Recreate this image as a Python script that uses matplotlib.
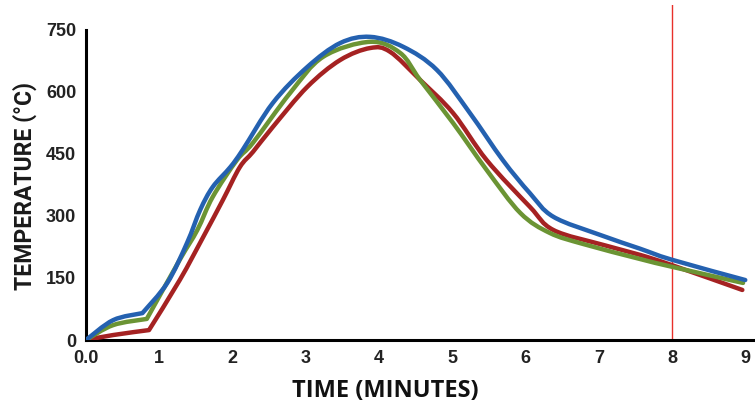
import matplotlib.pyplot as plt
from matplotlib.path import Path
from matplotlib.patches import PathPatch

# time in minutes / temperature in degrees C
blue_t = [0.0, 0.37, 0.77, 1.11, 1.38, 1.56, 1.73, 1.97, 2.14, 2.55, 3.02, 3.47, 3.88,
          4.33, 4.79, 5.24, 5.69, 6.06, 6.38, 7.02, 7.56, 8.0, 9.0]
blue_temp = [0, 48, 65, 138, 235, 315, 370, 418, 460, 573, 660, 718, 733,
             709, 653, 549, 435, 355, 298, 254, 221, 194, 145]

green_t = [0.0, 0.37, 0.83, 1.28, 1.52, 1.73, 2.06, 2.28, 2.79, 3.24, 3.88, 4.29, 4.56,
           5.01, 5.47, 5.93, 6.33, 6.79, 7.56, 8.0, 8.97]
green_temp = [0, 36, 51, 194, 266, 346, 435, 477, 598, 685, 721, 694, 629,
              525, 411, 307, 259, 232, 196, 177, 138]

red_t = [0.0, 0.37, 0.86, 1.28, 1.60, 1.87, 2.10, 2.28, 2.55, 3.02, 3.47, 3.88, 4.15,
         4.56, 5.01, 5.47, 6.06, 6.38, 7.06, 7.56, 8.0, 8.96]
red_temp = [0, 12, 24, 145, 249, 339, 418, 455, 515, 612, 677, 706, 697,
            629, 549, 435, 322, 266, 230, 206, 181, 121]

# index of the sharp bend just before minute 1
knee = 2

x_ticks = [0, 1, 2, 3, 4, 5, 6, 7, 8, 9]
x_tick_labels = ['0.0', '1', '2', '3', '4', '5', '6', '7', '8', '9']
y_ticks = [0, 150, 300, 450, 600, 750]
marker_time = 8


def smooth_path(xs, ys, corner):
    # catmull-rom through the points, drawn as cubic bezier segments,
    # with a sharp corner at one point
    pts = list(zip(xs, ys))
    verts = [pts[0]]
    codes = [Path.MOVETO]
    n = len(pts)
    for i in range(n - 1):
        p1 = pts[i]
        p2 = pts[i + 1]
        p0 = p1 if i == 0 or i == corner else pts[i - 1]
        p3 = p2 if i + 1 == n - 1 or i + 1 == corner else pts[i + 2]
        c1 = (p1[0] + (p2[0] - p0[0]) / 6, p1[1] + (p2[1] - p0[1]) / 6)
        c2 = (p2[0] - (p3[0] - p1[0]) / 6, p2[1] - (p3[1] - p1[1]) / 6)
        verts += [c1, c2, p2]
        codes += [Path.CURVE4] * 3
    return Path(verts, codes)


fig = plt.figure(figsize=(7.55, 4.04), dpi=100)
ax = fig.add_axes([0.1139, 0.1584, 0.8861, 0.8292])

series = [(red_t, red_temp, '#a52222'),
          (green_t, green_temp, '#6b9434'),
          (blue_t, blue_temp, '#2461b0')]
for z, (t, temp, col) in enumerate(series):
    patch = PathPatch(smooth_path(t, temp, knee), fill=False, edgecolor=col, lw=3.2,
                      capstyle='round', joinstyle='round', zorder=3 + z)
    ax.add_patch(patch)

ax.axvline(marker_time, color='#e8302a', lw=1.0, zorder=2)

ax.set_xlim(0, 9.133)
ax.set_ylim(0, 810)

ax.spines['top'].set_visible(False)
ax.spines['right'].set_visible(False)
ax.spines['left'].set_linewidth(2.2)
ax.spines['bottom'].set_linewidth(2.2)
ax.spines['left'].set_bounds(0, 750)

ax.set_xticks(x_ticks)
ax.set_xticklabels(x_tick_labels)
ax.set_yticks(y_ticks)
ax.tick_params(length=0, labelsize=13, labelcolor='#222222', pad=7)
for lab in ax.get_xticklabels() + ax.get_yticklabels():
    lab.set_fontweight('bold')
    lab.set_family('Liberation Sans')

ax.set_xlabel('TIME (MINUTES)', fontsize=17, fontweight='bold', family='Open Sans', color='#111111')
ax.xaxis.set_label_coords(0.447, -0.115)
ax.set_ylabel('TEMPERATURE (°C)', fontsize=16.5, fontweight='bold', family='Roboto', color='#1a1a1a')
ax.yaxis.set_label_coords(-0.073, 0.46)

fig.savefig('out.png', dpi=100)
